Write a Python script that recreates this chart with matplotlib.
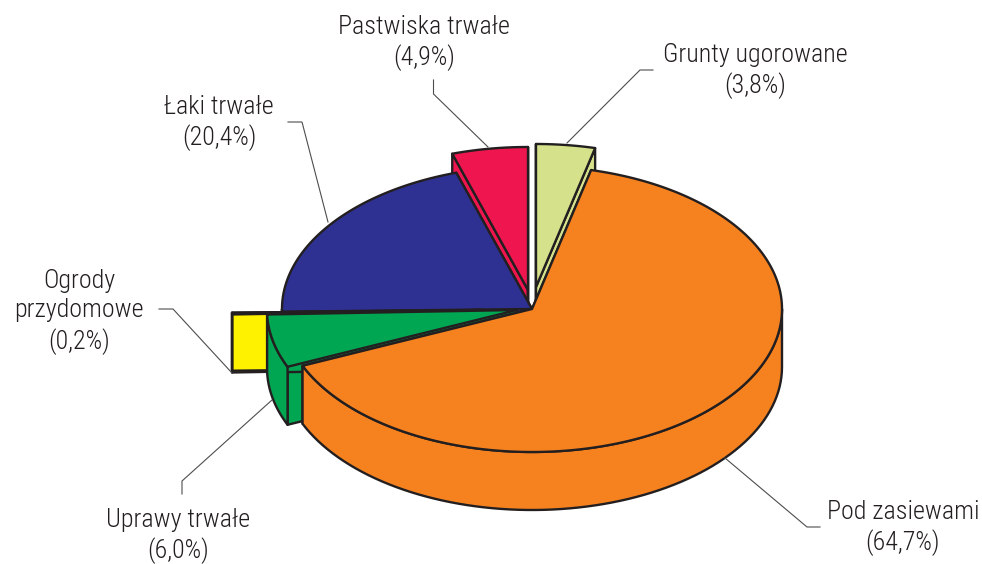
import numpy as np
import matplotlib
matplotlib.use("Agg")
import matplotlib.pyplot as plt
from matplotlib.patches import Polygon

categories = ["Grunty ugorowane", "Pod zasiewami", "Uprawy trwałe",
              "Ogrody\nprzydomowe", "Łaki trwałe", "Pastwiska trwałe"]
values = [3.8, 64.7, 6.0, 0.2, 20.4, 4.9]
colors = ["#D5E28B", "#F6821F", "#00A651", "#FFF200", "#2E3192", "#EF1650"]
offsets = [(4, -22), (0, 0), (-15, 1), (-50, 1), (0, 0), (-4, -19)]
draw_order = [5, 0, 4, 3, 2, 1]

label_pos = [(755, 71), (903, 528), (178, 536), (79, 312), (219, 123), (424, 43)]
leaders = [
    [(567, 143), (640, 70), (653, 70)],
    [(725, 458), (807, 527), (820, 527)],
    [(272, 400), (182, 481), (182, 494)],
    [(159, 309), (173, 309), (232, 373)],
    [(288, 122), (302, 122), (328, 222)],
    [(488, 147), (433.5, 94), (433.5, 80)],
]

CX, CY, RX, RY, DEPTH = 532, 309, 250, 143, 58
EDGE = "#231F20"
LW = 1.7

plt.rcParams["font.family"] = ["Roboto Condensed", "Sofia Sans Semi Condensed", "Liberation Sans", "DejaVu Sans"]
fig = plt.figure(figsize=(9.82, 5.64), dpi=100)
ax = fig.add_axes([0, 0, 1, 1])
ax.set_xlim(0, 982)
ax.set_ylim(564, 0)
ax.axis("off")


def rim(theta, off):
    t = np.radians(theta)
    return np.column_stack([CX + off[0] + RX * np.sin(t), CY + off[1] - RY * np.cos(t)])


edges = np.concatenate([[0], np.cumsum(values)]) * 3.6
for i in draw_order:
    a, b = edges[i], edges[i + 1]
    off = offsets[i]
    col = colors[i]
    apex = np.array([[CX + off[0], CY + off[1]]])
    down = np.array([0, DEPTH])
    kw = dict(closed=True, facecolor=col, edgecolor=EDGE, lw=LW, joinstyle="round")
    # radial walls
    for th in (a, b):
        p = rim(th, off)
        ax.add_patch(Polygon(np.vstack([apex, p, p + down, apex + down]), **kw))
    # outer wall on the near half
    lo, hi = max(a, 90), min(b, 270)
    if hi > lo:
        arc = rim(np.linspace(lo, hi, 80), off)
        ax.add_patch(Polygon(np.vstack([arc, (arc + down)[::-1]]), **kw))
    # top face
    arc = rim(np.linspace(a, b, max(int(b - a) * 2, 4)), off)
    ax.add_patch(Polygon(np.vstack([apex, arc]), **kw))

for pts in leaders:
    xs, ys = zip(*pts)
    ax.plot(xs, ys, color="#4D4D4F", lw=0.8, solid_joinstyle="miter")

for name, v, (x, y) in zip(categories, values, label_pos):
    txt = f"{name}\n({v:.1f}%)".replace(".", ",")
    ax.text(x, y, txt, ha="center", va="center", fontsize=18.7, color=EDGE,
            fontweight="light", linespacing=1.28)

fig.savefig("out.png", dpi=100)
